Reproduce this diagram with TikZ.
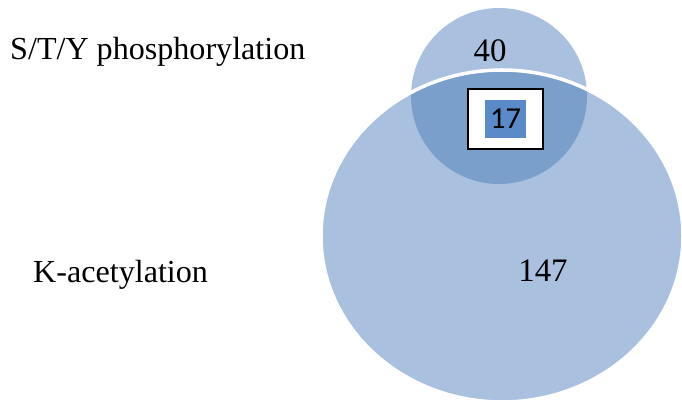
\documentclass[tikz,border=0pt]{standalone}
\usepackage{fontspec}
\setmainfont{Liberation Serif}
\newfontfamily\calibrifont{Carlito}
\usetikzlibrary{positioning,calc}

\definecolor{vennlight}{HTML}{A9C0DE}
\definecolor{venndark}{HTML}{7A9FCA}
\definecolor{boxblue}{HTML}{5A8BC8}

\tikzset{
    setlabel/.style={anchor=base west, inner sep=0pt, font=\fontsize{27.4}{32}\selectfont},
    countlabel/.style={inner sep=0pt, font=\fontsize{28}{32}\selectfont},
    overlapbox/.style={draw=black, line width=1.6pt, fill=white, minimum width=75*0.03cm, minimum height=60*0.03cm, inner sep=0pt},
    overlapnum/.style={fill=boxblue, minimum width=41*0.03cm, minimum height=38*0.03cm, inner sep=0pt, font=\calibrifont\fontsize{26}{30}\selectfont}
}

\begin{document}
\begin{tikzpicture}[x=0.03cm, y=-0.03cm]
    \useasboundingbox (0, 0) rectangle (682, 401);
    \begin{scope}
    \clip (0, 0) rectangle (682, 401);
    % phosphorylation set (small circle)
    \coordinate (phos) at (499, 96);
    \fill[vennlight] (phos) circle[radius=88];
    % acetylation set (large ellipse)
    \coordinate (acet) at (502, 236);
    \fill[vennlight] (acet) ellipse[x radius=181, y radius=166];
    % overlap of both sets
    \begin{scope}
        \clip (acet) ellipse[x radius=181, y radius=166];
        \fill[venndark] (phos) circle[radius=88];
    \end{scope}
    \draw[white, line width=3pt] (acet) ellipse[x radius=181, y radius=166];
    \end{scope}

    % set names
    \node[setlabel] (phoslabel) at (10, 60) {S/T/Y phosphorylation};
    \node[setlabel] (acetlabel) at (33, 282) {K-acetylation};

    % counts
    \node[countlabel] (phoscount) at (490, 51) {40};
    \node[countlabel] (acetcount) at (543, 271) {147};
    \node[overlapbox] (bothbox) at (505.5, 119) {};
    \node[overlapnum] (bothcount) at (bothbox.center) {17};
\end{tikzpicture}
\end{document}
